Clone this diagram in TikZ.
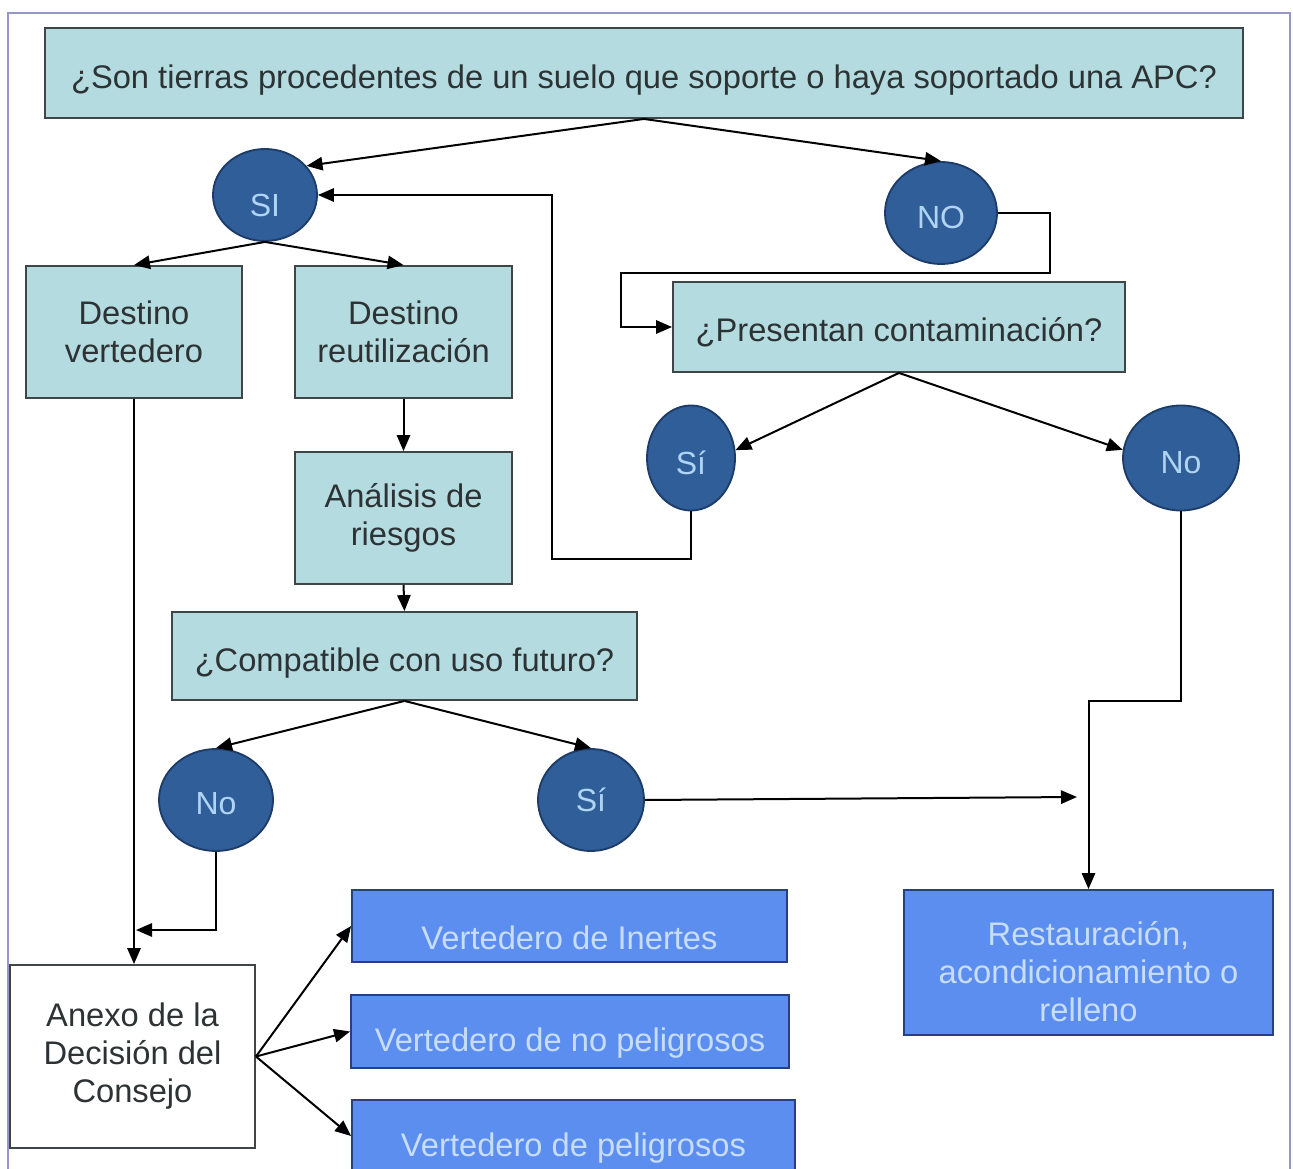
\documentclass[tikz,border=0pt]{standalone}
\usepackage{fontspec}
\setmainfont{Liberation Sans}
\usetikzlibrary{arrows.meta,shapes.geometric,calc}
\definecolor{tealbox}{RGB}{180,220,224}
\definecolor{boxline}{RGB}{64,70,72}
\definecolor{txtdark}{RGB}{45,50,52}
\definecolor{dotfill}{RGB}{47,94,152}
\definecolor{dotline}{RGB}{30,60,105}
\definecolor{dottext}{RGB}{176,212,244}
\definecolor{bluebox}{RGB}{92,142,240}
\definecolor{blueline}{RGB}{42,63,128}
\definecolor{bluetext}{RGB}{200,221,250}
\definecolor{framecol}{RGB}{150,150,200}
% lower a label inside its box, box size kept
\newcommand\lowr[2]{\raisebox{-#1}[\height][\depth]{#2}}
\tikzset{
  qbox/.style={draw=boxline, fill=tealbox, line width=1.4pt, text=txtdark, align=center, inner sep=0pt, font=\fontsize{24.5}{28.5}\selectfont},
  wbox/.style={qbox, fill=white},
  bbox/.style={draw=blueline, fill=bluebox, line width=1.4pt, text=bluetext, align=center, inner sep=0pt, font=\fontsize{24.5}{28.5}\selectfont},
  dot/.style={ellipse, draw=dotline, fill=dotfill, line width=1.4pt, text=dottext, inner sep=0pt, font=\fontsize{24}{26}\selectfont},
  arr/.style={line width=1.5pt, -{Triangle[length=12pt,width=10pt]}}
}
\begin{document}
\begin{tikzpicture}[x=0.75pt,y=0.75pt,yscale=-1,xscale=1]
\clip (0,0) rectangle (1293,1169);
\fill[white] (0,0) rectangle (1293,1169);

%Shape: Frame
\draw[framecol, line width=1.5pt] (8,13) rectangle (1290,1200);

%Shape: Rectangle [top question]
\node[qbox, minimum width=898.5pt, minimum height=67.5pt] (apc) at (644,73) {\lowr{5pt}{¿Son tierras procedentes de un suelo que soporte o haya soportado una APC?}};

%Shape: Ellipse [SI / NO]
\node[dot, minimum width=78pt, minimum height=69pt] (si1) at (265,195) {\lowr{8pt}{SI}};
\node[dot, minimum width=84pt, minimum height=76.5pt] (no1) at (941,213) {\lowr{3pt}{NO}};

%Shape: Rectangle [destinos]
\node[qbox, minimum width=162pt, minimum height=99pt] (vert) at (134,332) {Destino\\vertedero};
\node[qbox, minimum width=162.75pt, minimum height=99pt] (reut) at (403.5,332) {Destino\\reutilización};
\node[qbox, minimum width=162.75pt, minimum height=99pt] (anal) at (403.5,518) {Análisis de\\riesgos};
\node[qbox, minimum width=348.75pt, minimum height=66pt] (compat) at (404.5,656) {\lowr{5pt}{¿Compatible con uso futuro?}};
\node[qbox, minimum width=339pt, minimum height=67.5pt] (pres) at (899,327) {\lowr{4pt}{¿Presentan contaminación?}};

%Shape: Ellipse [contaminación]
\node[dot, minimum width=66pt, minimum height=78.75pt] (si3) at (691,458) {\lowr{3.5pt}{Sí}};
\node[dot, minimum width=87pt, minimum height=78.75pt] (no3) at (1181,458) {\lowr{3.5pt}{No}};

%Shape: Ellipse [uso futuro]
\node[dot, minimum width=85.5pt, minimum height=76.5pt] (no2) at (216,800) {\lowr{3pt}{No}};
\node[dot, minimum width=79.5pt, minimum height=76.5pt] (si2) at (591,800) {Sí};

%Shape: Rectangle [final]
\node[wbox, minimum width=183.75pt, minimum height=137.25pt] (anexo) at (132.5,1056.5) {Anexo de la\\Decisión del\\Consejo};
\node[bbox, minimum width=326.25pt, minimum height=54pt] (ine) at (569.5,926) {\lowr{9pt}{Vertedero de Inertes}};
\node[bbox, minimum width=328.5pt, minimum height=54.75pt] (nop) at (570,1031.5) {\lowr{9pt}{Vertedero de no peligrosos}};
\node[bbox, minimum width=332.25pt, minimum height=54pt] (pel) at (573.5,1136) {\lowr{9pt}{Vertedero de peligrosos}};
\node[bbox, minimum width=276.75pt, minimum height=108.75pt] (rest) at (1088.5,962.5) {\lowr{10pt}{\begin{tabular}{@{}c@{}}Restauración,\\acondicionamiento o\\relleno\end{tabular}}};

\coordinate (join) at (1077,797);
\coordinate (anexoin) at (136,930);

%Straight Lines
\draw[arr] (apc.south) -- (si1.35);
\draw[arr] (apc.south) -- (no1.north);
\draw[arr] (si1.south) -- (vert.north);
\draw[arr] (si1.south) -- (reut.north);
\draw[arr] (reut.south) -- (anal.north);
\draw[arr] (anal.south) -- (compat.north);
\draw[arr] (no1.east) -- ++(52,0) -- ++(0,60) -| ($(pres.west)+(-51,0)$) -- (pres.west);
\draw[arr] (pres.south) -- (si3.10);
\draw[arr] (pres.south) -- (no3.172);
\draw[arr] (si3.south) -- ++(0,48) -| ($(si1.east)+(234,0)$) -- (si1.east);
\draw[arr] (no3.south) -- ++(0,190) -| (rest.north);
\draw[arr] (compat.south) -- (no2.north);
\draw[arr] (compat.south) -- (si2.north);
\draw[arr] (si2.east) -- (join);
\draw[arr] (vert.south) -- (vert.south |- anexo.north);
\draw[arr] (no2.south) |- (anexoin);
\draw[arr] (anexo.east) -- (ine.west);
\draw[arr] (anexo.east) -- (nop.west);
\draw[arr] (anexo.east) -- (pel.west);

\end{tikzpicture}
\end{document}
